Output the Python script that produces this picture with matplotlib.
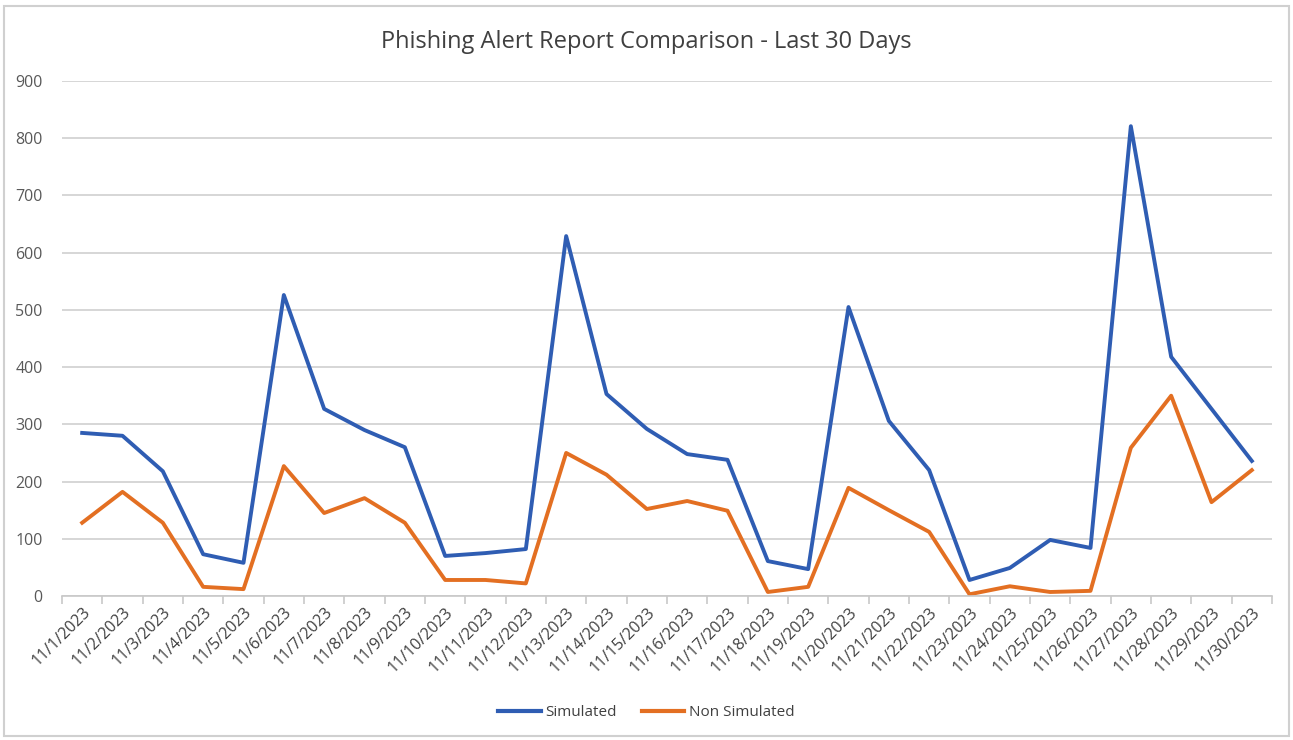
import matplotlib
matplotlib.use("Agg")
import matplotlib.pyplot as plt
from matplotlib.patches import Rectangle
from matplotlib.ticker import FixedLocator, NullFormatter

plt.rcParams['font.family'] = ['Open Sans', 'DejaVu Sans']

dates = [f"11/{d}/2023" for d in range(1, 31)]
simulated = [285, 280, 218, 73, 58, 526, 327, 290, 260, 70,
             75, 82, 629, 353, 292, 248, 238, 61, 47, 505,
             306, 220, 28, 49, 98, 84, 821, 418, 327, 236]
non_simulated = [128, 182, 128, 16, 12, 227, 145, 171, 128, 28,
                 28, 22, 250, 212, 152, 166, 149, 7, 16, 189,
                 150, 112, 3, 17, 7, 9, 259, 350, 164, 220]
yticks = [0, 100, 200, 300, 400, 500, 600, 700, 800, 900]

fig = plt.figure(figsize=(12.93, 7.40), dpi=100)
ax = fig.add_axes([62/1293, 1-596/740, (1272-62)/1293, (596-81)/740])

x = list(range(len(dates)))
blue = '#2F5DB3'
orange = '#E36F22'
ax.plot(x, simulated, color=blue, lw=2.8, label='Simulated', solid_joinstyle='round')
ax.plot(x, non_simulated, color=orange, lw=2.8, label='Non Simulated', solid_joinstyle='round')

ax.set_xlim(-0.5, len(dates) - 0.5)
ax.set_ylim(0, 900)
ax.set_yticks(yticks)
ax.set_yticklabels([str(v) for v in yticks], fontsize=11.5, color='#595959')
ax.yaxis.grid(True, color='#D0D0D0', lw=1.2)
ax.set_axisbelow(True)
ax.tick_params(axis='y', length=0, pad=14)

ax.set_xticks(x)
ax.set_xticklabels(dates, rotation=45, ha='right', rotation_mode='anchor',
                   fontsize=11.5, color='#404040')
ax.tick_params(axis='x', which='major', length=0, pad=6)
ax.xaxis.set_minor_locator(FixedLocator([i - 0.5 for i in range(len(dates) + 1)]))
ax.xaxis.set_minor_formatter(NullFormatter())
ax.tick_params(axis='x', which='minor', length=6, color='#C8C8C8', width=1.2)

for s in ['top', 'right', 'left']:
    ax.spines[s].set_visible(False)
ax.spines['bottom'].set_color('#C8C8C8')
ax.spines['bottom'].set_linewidth(1.2)

fig.text(0.5, 1-42/740, 'Phishing Alert Report Comparison - Last 30 Days',
         ha='center', va='center', fontsize=17, color='#404040')

leg = fig.legend(loc='center', bbox_to_anchor=(0.5, 1-713/740), ncol=2, frameon=False,
                 fontsize=11, handlelength=2.8, handletextpad=0.3, columnspacing=1.6)
for t in leg.get_texts():
    t.set_color('#404040')
for h in leg.legend_handles:
    h.set_linewidth(3.0)

fig.patches.append(Rectangle((4/1293, 4/740), 1-8/1293, 1-10/740, transform=fig.transFigure,
                             fill=False, edgecolor='#D0D0D0', lw=1.5))

fig.savefig('out.png', dpi=100, facecolor='white')
